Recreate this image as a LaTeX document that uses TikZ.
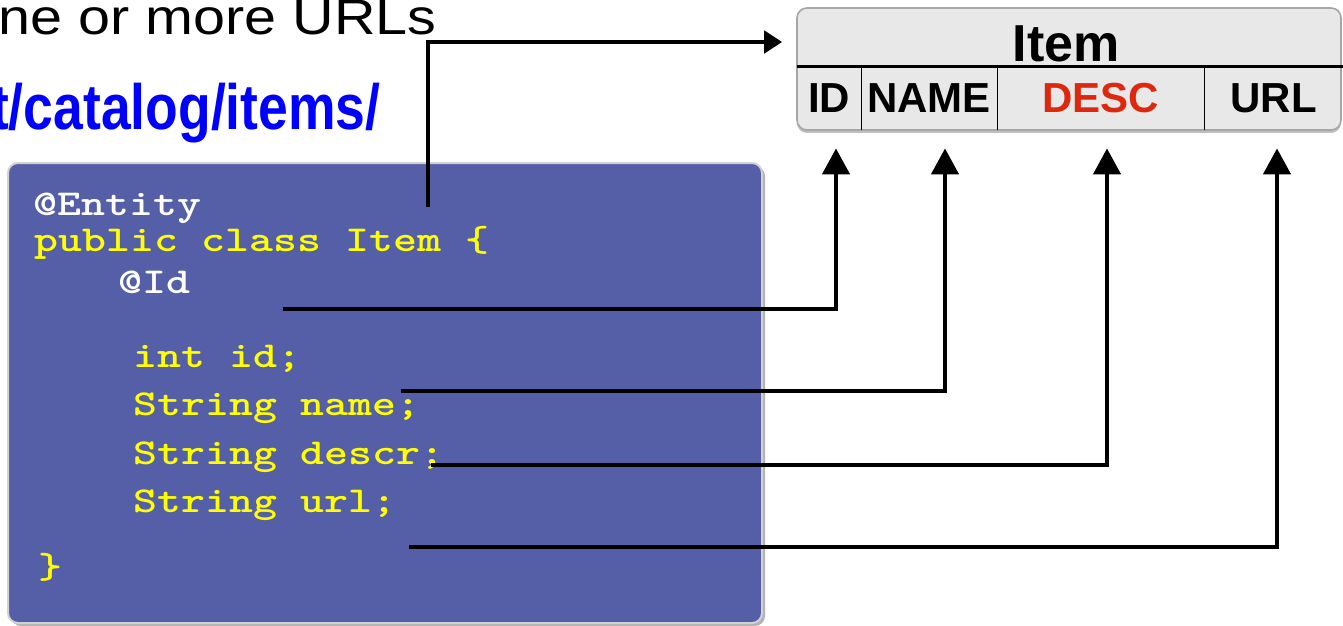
\documentclass[tikz,border=0pt]{standalone}
\usepackage{fontspec}
\setmainfont{Liberation Sans}
\usetikzlibrary{arrows.meta,shadows}

\definecolor{boxblue}{RGB}{84,95,168}
\definecolor{codeyellow}{RGB}{255,255,0}
\definecolor{tablegray}{RGB}{232,232,232}
\definecolor{descred}{RGB}{221,40,14}

\newcommand{\squash}[1]{\scalebox{1}[0.8]{#1}}

\tikzset{
  link/.style={line width=2.25pt, -{Triangle[length=13pt,width=13.5pt]}},
  code/.style={anchor=base west, inner sep=0pt, font=\ttfamily\bfseries\fontsize{22.8}{27}\selectfont},
  colname/.style={inner sep=0pt, minimum height=31.5pt, font=\bfseries\fontsize{21}{25}\selectfont},
}

\begin{document}
\begin{tikzpicture}[x=0.5pt,y=-0.5pt]
\useasboundingbox (0,0) rectangle (1343,626);
\clip (0,0) rectangle (1343,626);

% Draw the headline
\node[anchor=base east, inner sep=0pt, font=\fontsize{25}{29}\selectfont] (intro) at (437,35) {\scalebox{1.15}[1]{ne or more URLs}};
\node[anchor=base east, inner sep=0pt, text=blue, font=\bfseries\fontsize{32}{36}\selectfont] (path) at (381,130) {\scalebox{0.836}[1]{t/catalog/items/}};

% Draw the code box
\node[draw=gray!35, line width=1pt, fill=boxblue, rounded corners=5pt, minimum width=377pt, minimum height=230pt,
  drop shadow={shadow xshift=1.5pt, shadow yshift=-1.5pt, opacity=0.6}] (codebox) at (385,393) {};

\node[code, text=white] (entity) at (33,215) {\squash{@Entity}};
\node[code, text=codeyellow] (cls) at (34,251) {\squash{public class Item \{}};
\node[code, text=white] (idann) at (118,293) {\squash{@Id}};
\node[code, text=codeyellow] (fid) at (133,367) {\squash{int id;}};
\node[code, text=codeyellow] (fname) at (133,415) {\squash{String name;}};
\node[code, text=codeyellow] (fdescr) at (133,464) {\squash{String descr;}};
\node[code, text=codeyellow] (furl) at (133,512) {\squash{String url;}};
\node[code, text=codeyellow] (close) at (38,578) {\squash{\}}};

% Draw the table
\node[draw=gray!70, fill=tablegray, rounded corners=5pt, line width=0.8pt, minimum width=272pt, minimum height=61pt,
  drop shadow={shadow xshift=0pt, shadow yshift=-1.5pt, opacity=0.5}] (tab) at (1069,69) {};
\node[anchor=base, inner sep=0pt, font=\bfseries\fontsize{26}{30}\selectfont] (thead) at (1066,62) {Item};
\node[colname, minimum width=32pt] (tid) at (829,98.5) {ID};
\node[colname, minimum width=68pt] (tname) at (929,98.5) {NAME};
\node[colname, minimum width=103.5pt, text=descred] (tdesc) at (1100.5,98.5) {DESC};
\node[colname, minimum width=69.5pt] (turl) at (1273.5,98.5) {URL};

\draw[line width=1.2pt] (tid.north west) -- (turl.north east);
\draw[line width=0.8pt] (tid.north east) -- (tid.south east);
\draw[line width=0.8pt] (tname.north east) -- (tname.south east);
\draw[line width=0.8pt] (tdesc.north east) -- (tdesc.south east);

% Draw the mappings
\coordinate (clssrc) at (428,207);
\coordinate (idsrc) at (283,309);
\coordinate (namesrc) at (401,391);
\coordinate (descsrc) at (431,465);
\coordinate (urlsrc) at (409,547);

\draw[link, -{Triangle[length=9pt,width=11pt]}, shorten >=7pt] (clssrc) |- ([yshift=13.5pt]tab.west);
\draw[link, shorten >=9pt] (idsrc) -| ([xshift=3.5pt]tid.south);
\draw[link, shorten >=9pt] (namesrc) -| ([xshift=8pt]tname.south);
\draw[link, shorten >=9pt] (descsrc) -| ([xshift=3.25pt]tdesc.south);
\draw[link, shorten >=9pt] (urlsrc) -| ([xshift=1.75pt]turl.south);

\end{tikzpicture}
\end{document}
